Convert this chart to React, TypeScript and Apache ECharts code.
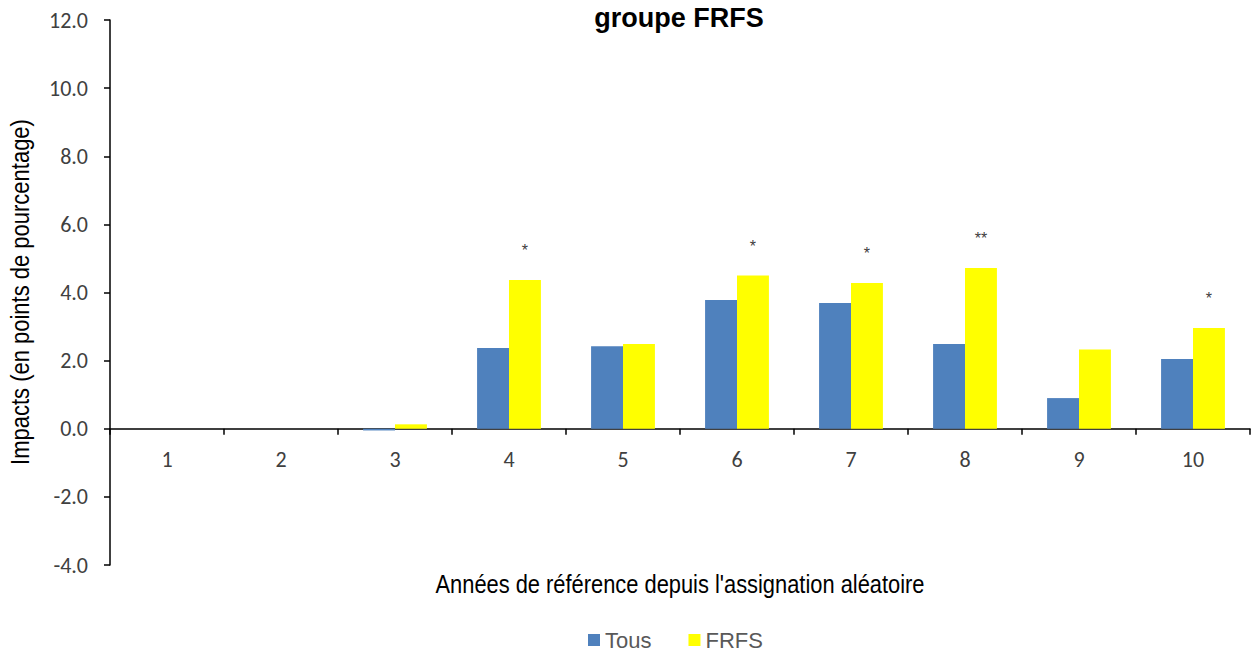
import React, { useEffect, useRef } from "react";
import * as echarts from "echarts";

const categories = ["1", "2", "3", "4", "5", "6", "7", "8", "9", "10"];
const tousValues = [0, 0, -0.05, 2.37, 2.42, 3.78, 3.69, 2.49, 0.9, 2.05];
const frfsValues = [0, 0, 0.13, 4.37, 2.49, 4.5, 4.28, 4.72, 2.33, 2.96];
const significance = ["", "", "", "*", "", "*", "*", "**", "", "*"];
const yTicks = { min: -4, max: 12, interval: 2 };

const sans = "'Liberation Sans', Arial, sans-serif";
const tickFont = "Carlito, Calibri, 'Open Sans', sans-serif";

export default function App() {
  const ref = useRef<HTMLDivElement>(null);
  useEffect(() => {
    if (!ref.current) return;
    const chart = echarts.init(ref.current, undefined, { renderer: "svg" });
    chart.setOption({
      animation: false,
      backgroundColor: "#ffffff",
      legend: {
        top: 624,
        left: 583,
        itemWidth: 12,
        itemHeight: 12,
        itemGap: 37,
        icon: "rect",
        textStyle: { fontFamily: sans, fontSize: 22, color: "#595959" },
        data: ["Tous", "FRFS"],
      },
      grid: { left: 110, right: 9, top: 20, bottom: 91, containLabel: false, outerBoundsMode: "none" },
      graphic: [
        {
          type: "text",
          x: 679,
          y: 18,
          scaleX: 1.0,
          style: {
            x: 0,
            y: 0,
            text: "groupe FRFS",
            font: `bold 27px ${sans}`,
            fill: "#000",
            align: "center",
            verticalAlign: "middle",
          },
        },
        {
          type: "text",
          x: 680,
          y: 584,
          scaleX: 0.875,
          style: {
            x: 0,
            y: 0,
            text: "Années de référence depuis l'assignation aléatoire",
            font: `25px ${sans}`,
            fill: "#000",
            align: "center",
            verticalAlign: "middle",
          },
        },
        {
          type: "text",
          x: 21,
          y: 292,
          rotation: Math.PI / 2,
          scaleX: 0.88,
          style: {
            x: 0,
            y: 0,
            text: "Impacts (en points de pourcentage)",
            font: `25px ${sans}`,
            fill: "#000",
            align: "center",
            verticalAlign: "middle",
          },
        },
      ],
      xAxis: {
        type: "category",
        data: categories,
        axisLine: { onZero: true, lineStyle: { color: "#000", width: 1.5 } },
        axisTick: { show: true, length: 6, lineStyle: { color: "#000", width: 1.5 } },
        axisLabel: { margin: -117, fontFamily: tickFont, fontSize: 22, color: "#404040" },
        splitLine: { show: false },
      },
      yAxis: {
        type: "value",
        min: yTicks.min,
        max: yTicks.max,
        interval: yTicks.interval,
        axisLine: { show: true, lineStyle: { color: "#000", width: 1.5 } },
        axisTick: { show: true, length: 6, lineStyle: { color: "#000", width: 1.5 } },
        axisLabel: {
          margin: 22,
          fontFamily: tickFont,
          fontSize: 22,
          color: "#404040",
          formatter: (v: number) => v.toFixed(1),
        },
        splitLine: { show: false },
      },
      series: [
        {
          name: "Tous",
          type: "bar",
          data: tousValues,
          barGap: "0%",
          barCategoryGap: "44%",
          itemStyle: { color: "#4F81BD" },
        },
        {
          name: "FRFS",
          type: "bar",
          data: frfsValues,
          barGap: "0%",
          barCategoryGap: "44%",
          itemStyle: { color: "#FFFF00" },
          label: {
            show: true,
            position: "top",
            distance: 21,
            fontFamily: sans,
            fontSize: 16,
            color: "#404040",
            formatter: (p: any) => significance[p.dataIndex] || "",
          },
        },
      ],
    });
    return () => chart.dispose();
  }, []);
  return <div ref={ref} style={{ width: 1259, height: 656, position: "absolute", left: 0, top: 0 }} />;
}
